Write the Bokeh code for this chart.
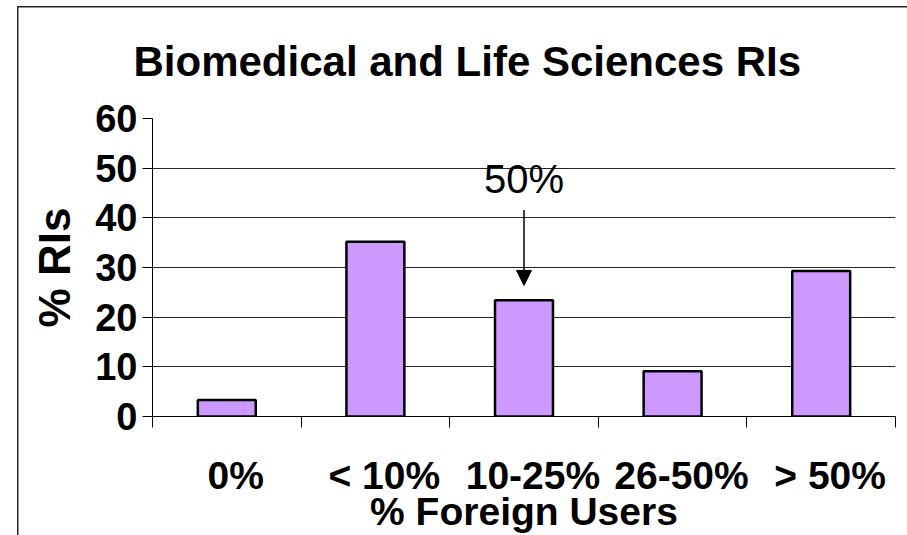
from bokeh.plotting import figure
from bokeh.models import Range1d, FixedTicker, Label, Arrow, NormalHead
from bokeh.embed import file_html
from bokeh.resources import INLINE

# ---- data ----
categories = ["0%", "< 10%", "10-25%", "26-50%", "> 50%"]
pct_ris = [3.3, 35.2, 23.4, 9.1, 29.3]
y_ticks = [0, 10, 20, 30, 40, 50, 60]
title_text = "Biomedical and Life Sciences RIs"
x_title = "% Foreign Users"
y_title = "% RIs"
callout_text = "50%"
callout_index = 2          # bar the callout points at
callout_text_y = 47.9      # text anchor (data units)
callout_arrow_from = 41.6
callout_arrow_to = 26.4

FONT = "Liberation Sans"

centers = [i + 0.5 for i in range(len(categories))]
bounds = list(range(len(categories) + 1))
label_shift = 0.06
label_pos = [c + label_shift for c in centers]

p = figure(width=907, height=535,
           x_range=Range1d(0, len(categories)), y_range=Range1d(y_ticks[0], y_ticks[-1]),
           output_backend="svg", toolbar_location=None,
           min_border_left=152, min_border_right=12, min_border_top=118, min_border_bottom=116,
           styles={"background": "linear-gradient(#222,#222) 17px 6px / 1.5px 100% no-repeat, "
                                 "linear-gradient(#222,#222) 17px 6px / 100% 1.5px no-repeat, white"})
p.background_fill_color = "white"
p.border_fill_color = None
p.outline_line_color = None

# title
p.title.text = title_text
p.title.text_font = FONT
p.title.text_font_style = "bold"
p.title.text_font_size = "42px"
p.title.text_color = "black"
p.title.align = "left"
p.title.offset = -19
p.title.standoff = 68

p.vbar(x=centers, top=pct_ris, bottom=0, width=0.39,
       fill_color="#CC99FF", line_color="black", line_width=2.5)

# y axis
p.yaxis.ticker = FixedTicker(ticks=y_ticks, minor_ticks=[])
p.yaxis.major_tick_out = 10
p.yaxis.major_tick_in = 0
p.yaxis.minor_tick_line_color = None
p.yaxis.major_label_standoff = 5
p.yaxis.major_label_text_font = FONT
p.yaxis.major_label_text_font_style = "bold"
p.yaxis.major_label_text_font_size = "38px"
p.yaxis.major_label_text_color = "black"
p.yaxis.axis_line_color = "black"
p.yaxis.major_tick_line_color = "black"
p.yaxis.axis_label = y_title
p.yaxis.axis_label_text_font = FONT
p.yaxis.axis_label_text_font_style = "bold"
p.yaxis.axis_label_text_font_size = "44px"
p.yaxis.axis_label_text_color = "black"
p.yaxis.axis_label_standoff = 13

# x axis: labels at category centers, ticks at category boundaries
p.xaxis.ticker = FixedTicker(ticks=label_pos, minor_ticks=bounds)
p.xaxis.major_label_overrides = {c: cat for c, cat in zip(label_pos, categories)}
p.xaxis.major_tick_line_color = None
p.xaxis.major_tick_out = 11
p.xaxis.major_tick_in = 0
p.xaxis.minor_tick_line_color = "black"
p.xaxis.minor_tick_out = 11
p.xaxis.minor_tick_in = 0
p.xaxis.axis_line_color = "black"
p.xaxis.major_label_standoff = 26
p.xaxis.major_label_text_font = FONT
p.xaxis.major_label_text_font_style = "bold"
p.xaxis.major_label_text_font_size = "39px"
p.xaxis.major_label_text_color = "black"
p.xaxis.axis_label = x_title
p.xaxis.axis_label_text_font = FONT
p.xaxis.axis_label_text_font_style = "bold"
p.xaxis.axis_label_text_font_size = "39px"
p.xaxis.axis_label_text_color = "black"
p.xaxis.axis_label_standoff = -10

p.xgrid.grid_line_color = None
p.ygrid.ticker = FixedTicker(ticks=y_ticks[1:])
p.ygrid.grid_line_color = "black"
p.ygrid.grid_line_width = 1
p.ygrid.grid_line_alpha = 0.85

# callout
cx = centers[callout_index]
p.add_layout(Label(x=cx, y=callout_text_y, text=callout_text, text_font=FONT,
                   text_font_size="40px", text_align="center", text_baseline="alphabetic",
                   text_color="black"))
p.add_layout(Arrow(x_start=cx, y_start=callout_arrow_from, x_end=cx, y_end=callout_arrow_to,
                   line_color="black", line_width=1.5,
                   end=NormalHead(size=15, fill_color="black", line_color="black")))

open("out.html", "w").write(file_html(p, INLINE))
